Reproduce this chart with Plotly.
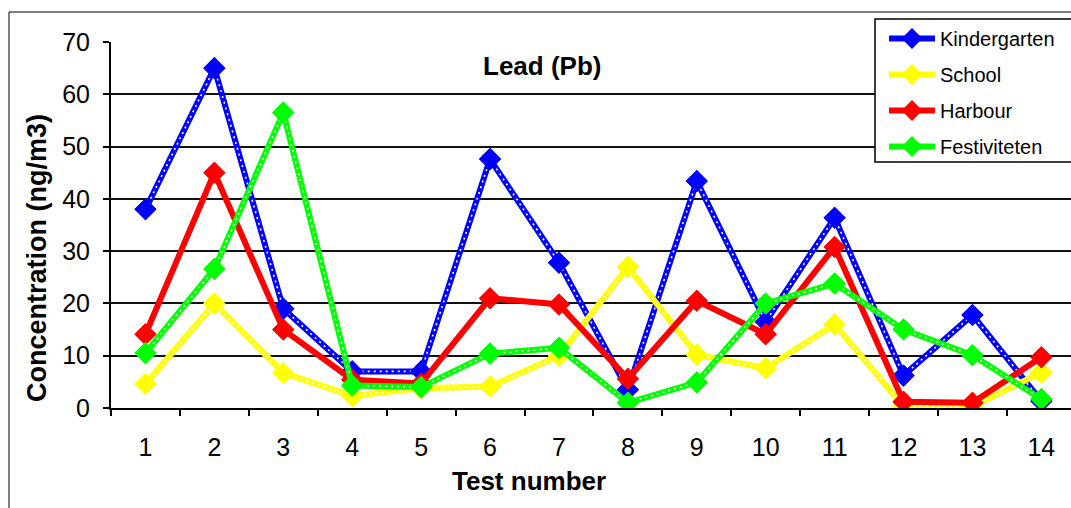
import plotly.graph_objects as go

# Lead (Pb) concentrations per test, ng/m3
tests = list(range(1, 15))
kindergarten = [38, 65, 19, 7, 7, 47.6, 27.8, 3.5, 43.4, 16.5, 36.4, 6.2, 17.8, 1.3]
school = [4.6, 20, 6.7, 2.3, 3.8, 4.1, 10, 27, 10.2, 7.6, 16, 0.3, 0.3, 6.8]
harbour = [14.1, 45, 15, 5.4, 4.7, 21, 19.8, 5.6, 20.5, 14.1, 30.8, 1.2, 1.0, 9.7]
festiviteten = [10.5, 26.6, 56.5, 4.3, 4.0, 10.4, 11.5, 1.0, 4.9, 20, 23.8, 15, 10.1, 1.7]

series = [
    ("Kindergarten", kindergarten, "#0000FF", True),
    ("School", school, "#FFFF00", True),
    ("Harbour", harbour, "#FF0000", False),
    ("Festiviteten", festiviteten, "#00FF00", True),
]

FONT = "Liberation Sans, Arial, sans-serif"

fig = go.Figure()
for i, (name, vals, color, dotted) in enumerate(series):
    fig.add_trace(go.Scatter(
        x=tests, y=vals, name=name, mode="lines+markers",
        legendgroup=f"g{i}",
        line=dict(color=color, width=6),
        marker=dict(symbol="diamond", size=17, color=color),
    ))
    if dotted:
        # thin white dotted stripe running inside the coloured line
        fig.add_trace(go.Scatter(
            x=tests, y=vals, mode="lines", showlegend=False, hoverinfo="skip",
            line=dict(color="white", width=1.6, dash="2px,4px"),
        ))
    fig.add_trace(go.Scatter(
        x=tests, y=vals, mode="markers", showlegend=False, hoverinfo="skip",
        marker=dict(symbol="diamond", size=17, color=color),
    ))

def px_x(p):
    return (p - 111) / 960

def px_y(p):
    return (408 - p) / 366

fig.update_layout(
    width=1071, height=508,
    margin=dict(l=111, r=0, t=42, b=100, autoexpand=False),
    paper_bgcolor="white", plot_bgcolor="white",
    font=dict(family=FONT, color="black"),
    showlegend=True,
    legend=dict(
        x=px_x(884), y=px_y(19), xanchor="left", yanchor="top",
        borderwidth=0, bgcolor="rgba(0,0,0,0)",
        font=dict(size=20, family=FONT), tracegroupgap=7,
        itemwidth=46,
    ),
    xaxis=dict(
        range=[0.5, 14.43], tickvals=tests, ticktext=[str(t) for t in tests],
        ticks="", showgrid=False, zeroline=False,
        showline=True, linecolor="black", linewidth=2,
        tickfont=dict(size=25, family=FONT), ticklabelstandoff=16,
        minor=dict(tickvals=[t + 0.5 for t in range(0, 15)], ticks="outside",
                   ticklen=6, tickcolor="black", tickwidth=1.5, showgrid=False),
    ),
    yaxis=dict(
        range=[0, 70], dtick=10, ticks="outside", ticklen=6, tickcolor="black",
        tickwidth=1.5, showgrid=True, gridcolor="#111111", gridwidth=2,
        zeroline=False, showline=True, linecolor="black", linewidth=2,
        tickfont=dict(size=25, family=FONT), ticklabelstandoff=8,
    ),
    shapes=[
        # chart border
        dict(type="rect", xref="paper", yref="paper",
             x0=px_x(9), x1=1.05, y0=-0.5, y1=px_y(12),
             line=dict(color="black", width=1), fillcolor="rgba(0,0,0,0)",
             layer="below"),
        # legend box
        dict(type="rect", xref="paper", yref="paper",
             x0=px_x(875), x1=1.05, y0=px_y(162), y1=px_y(19),
             line=dict(color="black", width=1.5), fillcolor="white",
             layer="above"),
    ],
    annotations=[
        dict(text="<b>Lead (Pb)</b>", xref="paper", yref="paper",
             x=px_x(542), y=px_y(66), showarrow=False,
             xanchor="center", yanchor="middle",
             font=dict(size=26, family=FONT)),
        dict(text="<b>Concentration (ng/m3)</b>", xref="paper", yref="paper",
             x=px_x(37), y=px_y(258), textangle=-90, showarrow=False,
             xanchor="center", yanchor="middle",
             font=dict(size=27, family=FONT)),
        dict(text="<b>Test number</b>", xref="paper", yref="paper",
             x=px_x(529), y=px_y(481), showarrow=False,
             xanchor="center", yanchor="middle",
             font=dict(size=26, family=FONT)),
    ],
)

fig.write_html("out.html")
